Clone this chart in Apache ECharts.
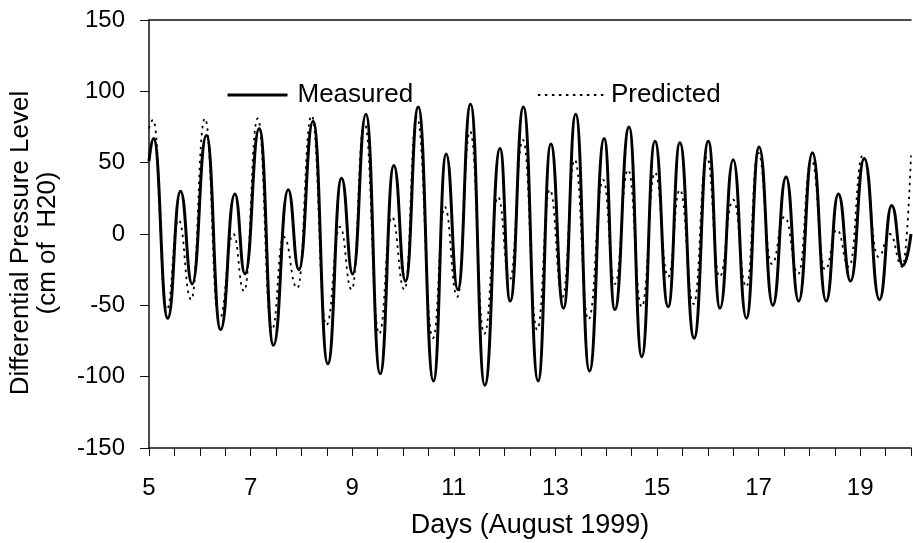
<!DOCTYPE html>
<html>
<head>
<meta charset="utf-8">
<script src="https://cdn.jsdelivr.net/npm/echarts@6/dist/echarts.min.js"></script>
<style>
  html, body { margin: 0; padding: 0; background: #fff; }
  #main { width: 913px; height: 543px; }
</style>
</head>
<body>
<div id="main"></div>
<script>
// days (August 1999) at each turning point of the measured record, and the level there
const measuredDays = [5.00, 5.09, 5.37, 5.62, 5.85, 6.13, 6.41, 6.69, 6.89, 7.17, 7.45, 7.74, 7.95, 8.23,
  8.52, 8.79, 9.01, 9.27, 9.55, 9.82, 10.05, 10.30, 10.60, 10.85, 11.08, 11.33, 11.61, 11.91, 12.11,
  12.37, 12.66, 12.91, 13.16, 13.40, 13.67, 13.96, 14.17, 14.45, 14.70, 14.96, 15.22, 15.45, 15.73,
  16.01, 16.24, 16.50, 16.76, 17.01, 17.28, 17.54, 17.79, 18.06, 18.33, 18.57, 18.81, 19.08, 19.38,
  19.62, 19.84, 20.00];
const measuredLevel = [51, 67, -59, 30, -35, 69, -67, 28, -28, 74, -78, 31, -25, 79,
  -91, 39, -28, 84, -98, 48, -33, 89, -103, 56, -39, 91, -106, 60, -47,
  89, -103, 63, -52, 84, -96, 67, -53, 75, -86, 65, -51, 64, -73,
  65, -52, 52, -59, 61, -50, 40, -47, 57, -47, 28, -33, 53, -46,
  20, -22, 0];

const predictedDays = [5.00, 5.08, 5.35, 5.58, 5.83, 6.10, 6.38, 6.66, 6.87, 7.14, 7.42, 7.65, 7.92, 8.20,
  8.49, 8.76, 8.99, 9.24, 9.53, 9.78, 10.03, 10.27, 10.59, 10.82, 11.07, 11.32, 11.60, 11.87, 12.10,
  12.36, 12.64, 12.89, 13.14, 13.38, 13.65, 13.94, 14.17, 14.43, 14.70, 14.96, 15.22, 15.45, 15.72,
  15.98, 16.23, 16.50, 16.76, 16.99, 17.26, 17.51, 17.78, 18.04, 18.31, 18.54, 18.78, 19.05, 19.36,
  19.58, 19.83, 20.00];
const predictedLevel = [74, 80, -53, 10, -46, 81, -60, 0, -40, 81, -67, -2, -38, 83,
  -64, 5, -39, 78, -70, 12, -39, 82, -73, 19, -44, 72, -70, 26, -32,
  66, -67, 31, -44, 52, -60, 38, -35, 45, -51, 43, -30, 31, -49,
  54, -30, 24, -37, 57, -21, 12, -28, 52, -25, 3, -23, 55, -16,
  0, -23, 55];

const xLabels = [5, 7, 9, 11, 13, 15, 17, 19];

const font = "'Liberation Sans', Arial, sans-serif";
const pairs = (xs, ys) => xs.map((x, i) => [x, ys[i]]);

// hide the circle echarts adds to line legend icons, keep the line
const noDot = { color: 'transparent', borderWidth: 0, opacity: 0 };

const chart = echarts.init(document.getElementById('main'));

chart.setOption({
  animation: false,
  backgroundColor: '#fff',
  textStyle: { fontFamily: font, color: '#000' },
  grid: { left: 149, right: 2, top: 20, bottom: 95, containLabel: false, outerBoundsMode: 'none' },
  legend: [
    {
      data: ['Measured'], left: 221, top: 77,
      itemWidth: 60, itemHeight: 14, itemStyle: noDot,
      lineStyle: { color: '#000', width: 3, type: 'solid' },
      textStyle: { fontSize: 26, color: '#000', fontFamily: font, padding: [0, 0, 0, 5] }
    },
    {
      data: ['Predicted'], left: 532, top: 77,
      itemWidth: 66, itemHeight: 14, itemStyle: noDot,
      lineStyle: { color: '#000', width: 1.8, type: [2.5, 4.5] },
      textStyle: { fontSize: 26, color: '#000', fontFamily: font, padding: [0, 0, 0, 2] }
    }
  ],
  xAxis: [
    {
      type: 'value', min: 5, max: 20, interval: 0.5,
      name: 'Days (August 1999)', nameLocation: 'middle', nameGap: 64,
      nameTextStyle: { fontSize: 27, color: '#000', fontFamily: font },
      axisLine: { onZero: false, lineStyle: { color: '#111', width: 1.5 } },
      axisTick: { length: 8, lineStyle: { color: '#111' } },
      axisLabel: {
        fontSize: 24, color: '#000', margin: 28, fontFamily: font,
        formatter: v => (xLabels.indexOf(v) >= 0 ? String(v) : '')
      },
      splitLine: { show: false }
    },
    {
      type: 'value', min: 5, max: 20, position: 'top',
      axisLine: { show: true, onZero: false, lineStyle: { color: '#111', width: 1.5 } },
      axisTick: { show: false }, axisLabel: { show: false }, splitLine: { show: false }
    }
  ],
  yAxis: {
    type: 'value', min: -150, max: 150, interval: 50,
    name: 'Differential Pressure Level\n(cm of  H20)',
    nameLocation: 'middle', nameGap: 88, nameRotate: 90,
    nameTextStyle: { fontSize: 26, color: '#000', fontFamily: font, lineHeight: 27, padding: [0, 18, 0, 0] },
    axisLine: { show: true, onZero: false, lineStyle: { color: '#111', width: 1.5 } },
    axisTick: { show: true, length: 9, lineStyle: { color: '#111' } },
    axisLabel: { fontSize: 24, color: '#000', margin: 24, fontFamily: font },
    splitLine: { show: false }
  },
  series: [
    {
      name: 'Measured', type: 'line', data: pairs(measuredDays, measuredLevel),
      symbol: 'none', smooth: 0.5, smoothMonotone: 'x',
      lineStyle: { color: '#000', width: 3 }, itemStyle: { color: '#000' }
    },
    {
      name: 'Predicted', type: 'line', data: pairs(predictedDays, predictedLevel),
      symbol: 'none', smooth: 0.5, smoothMonotone: 'x',
      lineStyle: { color: '#000', width: 1.8, type: [2.5, 4.5] }, itemStyle: { color: '#000' }
    }
  ]
});
</script>
</body>
</html>
